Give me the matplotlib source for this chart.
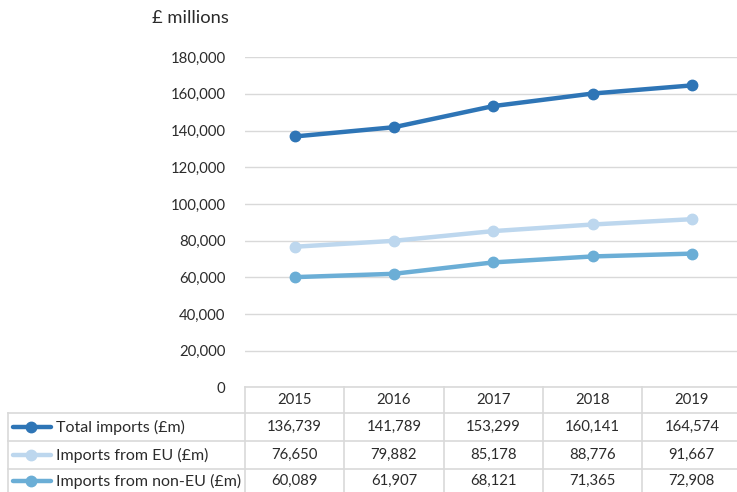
import matplotlib.pyplot as plt
from matplotlib.lines import Line2D
import numpy as np

plt.rcParams['font.family'] = ['Lato', 'DejaVu Sans']

years = ['2015', '2016', '2017', '2018', '2019']
total = [136739, 141789, 153299, 160141, 164574]
eu = [76650, 79882, 85178, 88776, 91667]
non_eu = [60089, 61907, 68121, 71365, 72908]
series_names = ['Total imports (£m)', 'Imports from EU (£m)', 'Imports from non-EU (£m)']
colors = ['#2E75B6', '#BDD7EE', '#6BAED6']
yticks = np.arange(0, 180001, 20000)

W, H = 737, 492
text_col = '#2B2B2B'
grid_col = '#D9D9D9'

fig = plt.figure(figsize=(W / 100, H / 100), dpi=100)

# plot area in pixel terms
left_px, right_px = 245, 741.5
bottom_px, top_px = 387.4, 57.1
ax = fig.add_axes([left_px / W, 1 - bottom_px / H,
                   (right_px - left_px) / W, (bottom_px - top_px) / H])

x = np.arange(len(years))
for vals, c in zip([total, eu, non_eu], colors):
    ax.plot(x, vals, color=c, lw=3.2, marker='o', ms=7.5, solid_capstyle='round', zorder=3)

ax.set_xlim(-0.5, len(years) - 0.5)
ax.set_ylim(0, 180000)
ax.set_yticks(yticks)
ax.set_yticklabels([f'{v:,}' for v in yticks], fontsize=10.7, color=text_col)
ax.set_xticks([])
ax.tick_params(axis='y', length=0, pad=14)
ax.grid(axis='y', color=grid_col, lw=1)
ax.set_axisbelow(True)
for s in ax.spines.values():
    s.set_visible(False)

# overlay for data table and axis title, in pixel coords
ov = fig.add_axes([0, 0, 1, 1], zorder=5)
ov.set_xlim(0, W)
ov.set_ylim(H, 0)
ov.axis('off')
ov.patch.set_alpha(0)

ov.text(152, 18, '£ millions', fontsize=13.2, color=text_col, ha='left', va='center')

col_w = (right_px - left_px) / len(years)
row_lines = [bottom_px, 413.3, 441, 469, 493]
lab_left = 8

lw_t = 1.2
# horizontal lines
ov.plot([left_px, W + 5], [row_lines[0]] * 2, color=grid_col, lw=lw_t)
for yy in row_lines[1:]:
    ov.plot([lab_left, W + 5], [yy, yy], color=grid_col, lw=lw_t)
# vertical lines
ov.plot([lab_left, lab_left], [row_lines[1], row_lines[-1]], color=grid_col, lw=lw_t)
for i in range(len(years) + 1):
    xx = left_px + i * col_w
    ov.plot([xx, xx], [row_lines[0], row_lines[-1]], color=grid_col, lw=lw_t)

# header
for i, yr in enumerate(years):
    ov.text(left_px + (i + 0.5) * col_w, (row_lines[0] + row_lines[1]) / 2, yr,
            fontsize=10.7, color=text_col, ha='center', va='center')

# rows
for r, (name, vals, c) in enumerate(zip(series_names, [total, eu, non_eu], colors)):
    yc = (row_lines[r + 1] + row_lines[r + 2]) / 2
    ov.add_line(Line2D([13, 51], [yc, yc], color=c, lw=3.2, solid_capstyle='round'))
    ov.add_line(Line2D([31], [yc], color=c, marker='o', ms=7.5, lw=0))
    ov.text(56, yc, name, fontsize=11.5, color=text_col, ha='left', va='center')
    for i, v in enumerate(vals):
        ov.text(left_px + (i + 0.5) * col_w, yc, f'{v:,}',
                fontsize=10.7, color=text_col, ha='center', va='center')

fig.savefig('out.png', dpi=100)
